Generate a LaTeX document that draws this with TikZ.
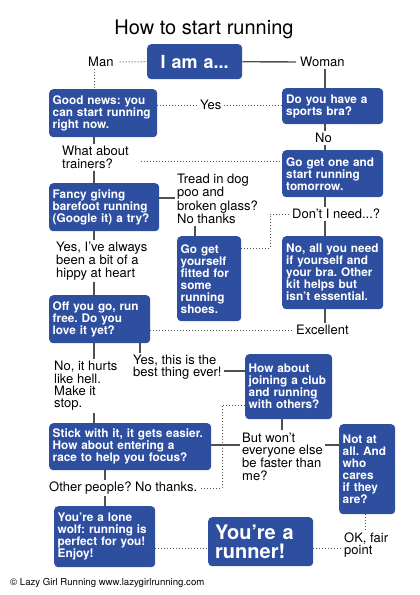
\documentclass[tikz,border=0pt]{standalone}
\usepackage{fontspec}
\setmainfont{TeX Gyre Heros}
\definecolor{boxblue}{RGB}{46,78,160}
\definecolor{linegray}{RGB}{80,80,80}
\begin{document}
\frenchspacing
\begin{tikzpicture}[x=1pt,y=-1pt,
  box/.style={fill=boxblue, rounded corners=4pt, text=white,
    font=\fontsize{11.8}{12}\selectfont\bfseries, align=left,
    anchor=north west, inner xsep=3.5pt, inner ysep=0pt},
  lbl/.style={font=\fontsize{13}{12.3}\selectfont, align=left, anchor=west,
    inner sep=2pt, text=black},
  conn/.style={draw=linegray, line width=1.4pt},
  dots/.style={draw=linegray, line width=1pt, dash pattern=on 1pt off 2pt}]
\useasboundingbox (0,0) rectangle (420,595);

% title
\node[font=\fontsize{20}{20}\selectfont] (title) at (204,29) {How to start running};

% boxes
\node[box, minimum height=35pt, text width=88pt, align=center,
  font=\fontsize{18}{18}\selectfont\bfseries] (iam) at (147,44) {I am a...};
\node[box, minimum height=48pt, text width=101pt] (good) at (49,89) {Good news: you\\can start running\\right now.};
\node[box, minimum height=36pt, text width=93pt, inner xsep=4pt] (bra) at (282,88) {Do you have a\\sports bra?};
\node[box, minimum height=47pt, text width=93pt, inner xsep=4pt] (goget) at (282,150) {Go get one and\\start running\\tomorrow.};
\node[box, minimum height=48pt, text width=103pt] (fancy) at (49,183) {Fancy giving\\barefoot running\\(Google it) a try?};
\node[box, minimum height=85pt, text width=57pt] (shoes) at (177,236) {Go get\\yourself\\fitted for\\some\\running\\shoes.};
\node[box, minimum height=73pt, text width=93pt, inner xsep=4pt] (noall) at (282,236) {No, all you need\\if yourself and\\your bra. Other\\kit helps but\\isn’t essential.};
\node[box, minimum height=48pt, text width=94pt] (offyougo) at (49,295) {Off you go, run\\free. Do you\\love it yet?};
\node[box, minimum height=65pt, text width=80pt] (club) at (245,354) {How about\\joining a club\\and running\\with others?};
\node[box, minimum height=47pt, text width=155pt] (stick) at (49,423) {Stick with it, it gets easier.\\How about entering a\\race to help you focus?};
\node[box, minimum height=90pt, text width=49pt] (notatall) at (339,424) {Not at\\all. And\\who\\cares\\if they\\are?};
\node[box, minimum height=61pt, text width=94pt] (lonewolf) at (54,506) {You’re a lone\\wolf: running is\\perfect for you!\\Enjoy!};
\node[box, minimum height=49pt, text width=91pt, inner xsep=7pt,
  font=\fontsize{20}{19}\selectfont\bfseries] (runner) at (208,517) {You’re a\\runner!};

% labels
\node[lbl] (man) at (86,62) {Man};
\node[lbl] (woman) at (298,62) {Woman};
\node[lbl] (yes) at (198,105) {Yes};
\node[lbl] (no) at (313,138) {No};
\node[lbl] (trainers) at (60,157.5) {What about\\trainers?};
\node[lbl] (tread) at (175,199) {Tread in dog\\poo and\\broken glass?\\No thanks};
\node[lbl] (dontneed) at (290,214) {Don’t I need...?};
\node[lbl] (hippy) at (54,261) {Yes, I’ve always\\been a bit of a\\hippy at heart};
\node[lbl] (excellent) at (294,330) {Excellent};
\node[lbl] (hurts) at (52,386) {No, it hurts\\like hell.\\Make it\\stop.};
\node[lbl] (best) at (131,367) {Yes, this is the\\best thing ever!};
\node[lbl] (faster) at (240,456.5) {But won’t\\everyone else\\be faster than\\me?};
\node[lbl] (others) at (47,488) {Other people? No thanks.};
\node[lbl] (fair) at (342,545) {OK, fair\\point};
\node[font=\fontsize{9.6}{9.6}\selectfont, anchor=west, inner sep=0pt] (footer) at (10,583) {© Lazy Girl Running www.lazygirlrunning.com};

% columns and rows
\coordinate (xA) at (94,0);
\coordinate (xB) at (325,0);
\coordinate (xC) at (195,0);
\coordinate (xD) at (140,0);
\coordinate (xE) at (282,0);
\coordinate (xF) at (105,0);
\coordinate (xG) at (365,0);
\coordinate (xH) at (270,0);
\coordinate (xI) at (222,0);
\coordinate (r105) at (0,105);
\coordinate (r161) at (0,161);
\coordinate (r198) at (0,198);
\coordinate (r248) at (0,248);
\coordinate (r330) at (0,330);
\coordinate (r371) at (0,371);
\coordinate (r405) at (0,405);
\coordinate (r445) at (0,445);
\coordinate (r548) at (0,548);

% connectors
\draw[dots, shorten <=4pt] (man.east) -- (iam.west);
\draw[conn, shorten >=2pt] (iam.east) -- (woman.west);
\draw[dots] (man.south -| xA) -- (good.north -| xA);
\draw[conn] (woman.south -| xB) -- (bra.north -| xB);
\draw[dots] (good.east |- r105) -- (yes.west |- r105);
\draw[dots] (yes.east |- r105) -- (bra.west |- r105);
\draw[conn] (bra.south -| xB) -- (no.north -| xB);
\draw[conn] (no.south -| xB) -- (goget.north -| xB);
\draw[conn] (good.south -| xA) -- (trainers.north -| xA);
\draw[conn] (trainers.south -| xA) -- (fancy.north -| xA);
\draw[dots, shorten <=10pt] (trainers.east |- r161) -- (goget.west |- r161);
\draw[conn] (fancy.east |- r198) -- (tread.west |- r198);
\draw[conn] (tread.south -| xC) -- (shoes.north -| xC);
\draw[dots] (shoes.east |- r248) -| (xH |- dontneed.west) -- (dontneed.west);
\draw[conn] (goget.south -| xB) -- (dontneed.north -| xB);
\draw[conn] (dontneed.south -| xB) -- (noall.north -| xB);
\draw[conn] (noall.south -| xB) -- (excellent.north -| xB);
\draw[dots] (offyougo.east |- r330) -- (excellent.west |- r330);
\draw[conn] (fancy.south -| xA) -- (hippy.north -| xA);
\draw[conn] (hippy.south -| xA) -- (offyougo.north -| xA);
\draw[conn] (offyougo.south -| xA) -- (hurts.north -| xA);
\draw[conn] (hurts.south -| xA) -- (stick.north -| xA);
\draw[conn] (offyougo.south -| xD) -- (best.north -| xD);
\draw[conn] (best.east |- r371) -- (club.west |- r371);
\draw[dots] (club.west |- r405) -| (xI |- others.east) -- (others.east);
\draw[conn] (club.south -| xE) -- (faster.north -| xE);
\draw[conn] (stick.east |- r445) -- (faster.west |- r445);
\draw[conn] (faster.east |- r445) -- (notatall.west |- r445);
\draw[conn] (stick.south -| xF) -- (others.north -| xF);
\draw[conn] (others.south -| xF) -- (lonewolf.north -| xF);
\draw[dots] (lonewolf.east |- r548) -- (runner.west |- r548);
\draw[dots] (runner.east |- r548) -- (fair.west |- r548);
\draw[dots] (notatall.south -| xG) -- (fair.north -| xG);
\end{tikzpicture}
\end{document}
